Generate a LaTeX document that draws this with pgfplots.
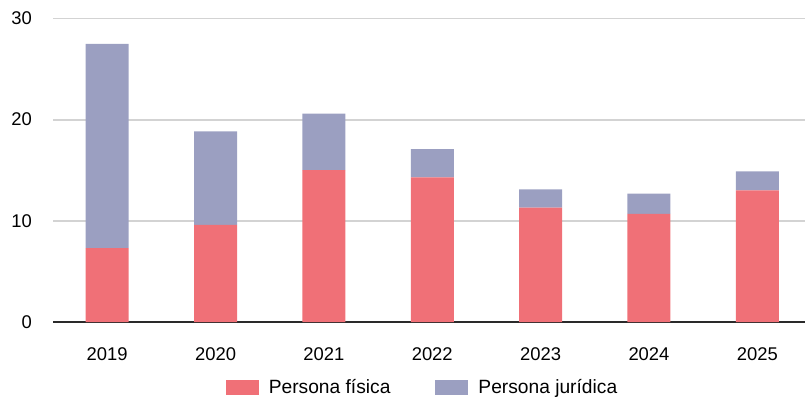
\documentclass[border=0pt]{standalone}
\usepackage{pgfplots}
\pgfplotsset{compat=1.18}
\usepackage{fontspec}
\setmainfont{Liberation Sans}
\definecolor{fisica}{HTML}{F07077}
\definecolor{juridica}{HTML}{9B9FC1}
\definecolor{gridc}{HTML}{D3D3D3}
\definecolor{axisc}{HTML}{2A2A2A}
\begin{document}
\begin{tikzpicture}
\begin{axis}[
    at={(0,0)}, anchor=south west,
    scale only axis,
    width=752bp, height=303.5bp,
    ybar stacked, bar width=43bp,
    xmin=-0.5, xmax=6.44,
    ymin=0, ymax=30,
    xtick={0,...,6},
    xticklabels={2019,2020,2021,2022,2023,2024,2025},
    ytick={0,10,20,30},
    /pgf/number format/assume math mode=true,
    tick label style={font=\fontsize{18.4bp}{22bp}\selectfont},
    yticklabel style={inner sep=0pt, anchor=east, xshift=-21bp},
    xticklabel style={inner sep=0pt, anchor=north, yshift=-25bp},
    major tick length=0pt,
    axis x line*=bottom, axis y line*=left,
    x axis line style={draw=axisc, line width=2.2bp, -},
    y axis line style={draw=none},
    ymajorgrids, grid style={draw=gridc, line width=1.8bp},
    legend columns=-1,
    legend style={at={(0.4914,-0.216)}, anchor=center, draw=none, fill=none,
        font=\fontsize{19.2bp}{23bp}\selectfont,
        /tikz/every odd column/.append style={column sep=8bp},
        /tikz/every even column/.append style={column sep=43bp},
        inner sep=0pt},
    legend cell align=left,
    legend image code/.code={\fill[#1] (0bp,-7.5bp) rectangle (33bp,7.5bp);},
]
\addplot[fill=fisica, draw=none] coordinates {(0,7.3) (1,9.6) (2,15.0) (3,14.3) (4,11.3) (5,10.7) (6,13.0)};
\addplot[fill=juridica, draw=none] coordinates {(0,20.2) (1,9.25) (2,5.6) (3,2.8) (4,1.8) (5,2.0) (6,1.9)};
\legend{Persona física, Persona jurídica}
\end{axis}
\pgfresetboundingbox
\path[use as bounding box] (-53bp,-79bp) rectangle (752bp,322bp);
\end{tikzpicture}
\end{document}
